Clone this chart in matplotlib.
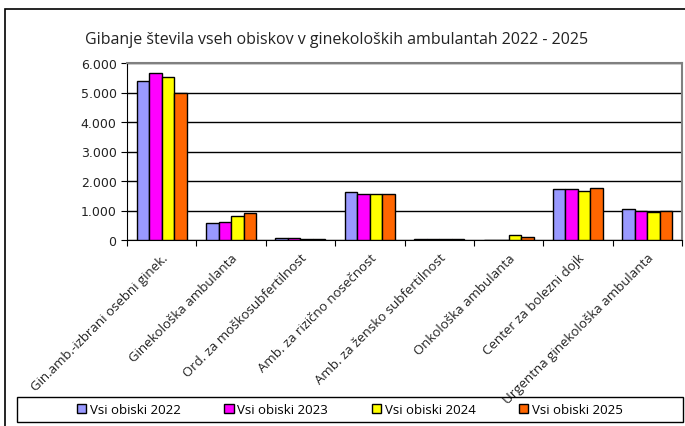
import matplotlib
matplotlib.use('Agg')
from matplotlib import pyplot as plt
from matplotlib.patches import Rectangle
from matplotlib.ticker import FuncFormatter, FixedLocator
import numpy as np

categories = ['Gin.amb.-izbrani osebni ginek.', 'Ginekološka ambulanta',
              'Ord. za moškosubfertilnost', 'Amb. za rizično nosečnost',
              'Amb. za žensko subfertilnost', 'Onkološka ambulanta',
              'Center za bolezni dojk', 'Urgentna ginekološka ambulanta']
series_names = ['Vsi obiski 2022', 'Vsi obiski 2023', 'Vsi obiski 2024', 'Vsi obiski 2025']
visits_2022 = [5380, 575, 80, 1615, 25, 15, 1720, 1050]
visits_2023 = [5660, 620, 80, 1560, 25, 15, 1720, 995]
visits_2024 = [5515, 810, 30, 1560, 25, 160, 1670, 950]
visits_2025 = [5000, 905, 30, 1560, 25, 100, 1775, 995]
colors = ['#9999FF', '#FF00FF', '#FFFF00', '#FF6600']

fig = plt.figure(figsize=(6.85, 4.27), dpi=100)
W, H = 685, 427

# outer chart frame
fig.patches.append(Rectangle((5 / W, -0.1), 1.2, 1 - 10 / H + 0.1, transform=fig.transFigure,
                             fill=False, edgecolor='black', linewidth=1.2, zorder=0))
# legend frame
fig.patches.append(Rectangle((17 / W, 1 - 423 / H), 666 / W, 25 / H, transform=fig.transFigure,
                             fill=False, edgecolor='black', linewidth=1.0, zorder=0))

ax = fig.add_axes([127 / W, 1 - 241 / H, 555 / W, 177 / H])

x = np.arange(len(categories))
bw = 0.18
all_series = [visits_2022, visits_2023, visits_2024, visits_2025]
for i, (vals, c, name) in enumerate(zip(all_series, colors, series_names)):
    ax.bar(x + (i - 1.5) * bw, vals, bw, color=c, edgecolor='black', linewidth=1.0,
           label=name, zorder=3)

ax.set_xlim(-0.5, len(categories) - 0.5)
ax.set_ylim(0, 6000)
ax.set_yticks(range(0, 6001, 1000))
ax.yaxis.set_major_formatter(FuncFormatter(lambda v, p: f'{int(v):,}'.replace(',', '.')))
ax.grid(axis='y', color='black', linewidth=1.0, zorder=1)

ax.xaxis.set_major_locator(FixedLocator(np.arange(-0.5, len(categories), 1.0)))
ax.set_xticklabels([])
ax.xaxis.set_minor_locator(FixedLocator(x))
ax.set_xticklabels(categories, minor=True, rotation=45, ha='right', rotation_mode='anchor',
                   fontsize=9.5, family='Open Sans', color='#222222')
ax.tick_params(axis='x', which='minor', length=0, pad=8)
ax.tick_params(axis='x', which='major', length=4, direction='out', color='black')
ax.tick_params(axis='y', length=4, labelsize=9, direction='out', labelcolor='#222222')

for side in ['top', 'right']:
    ax.spines[side].set_color('#808080')
    ax.spines[side].set_linewidth(1.5)
ax.spines['left'].set_color('black')
ax.spines['bottom'].set_color('black')

fig.text(337 / W, 1 - 40 / H, 'Gibanje števila vseh obiskov v ginekoloških ambulantah 2022 - 2025',
         ha='center', va='center', fontsize=11.5, family='Open Sans', color='#222222')

handles, labels = ax.get_legend_handles_labels()
leg = fig.legend(handles, labels, loc='center', ncol=4,
                 bbox_to_anchor=(350 / W, 1 - 410.5 / H),
                 fontsize=9.5, frameon=False,
                 handlelength=0.7, handleheight=0.7, handletextpad=0.3,
                 columnspacing=3.3, borderaxespad=0)
for t in leg.get_texts():
    t.set_family('Open Sans')

plt.savefig('out.png', dpi=100)
plt.close()
